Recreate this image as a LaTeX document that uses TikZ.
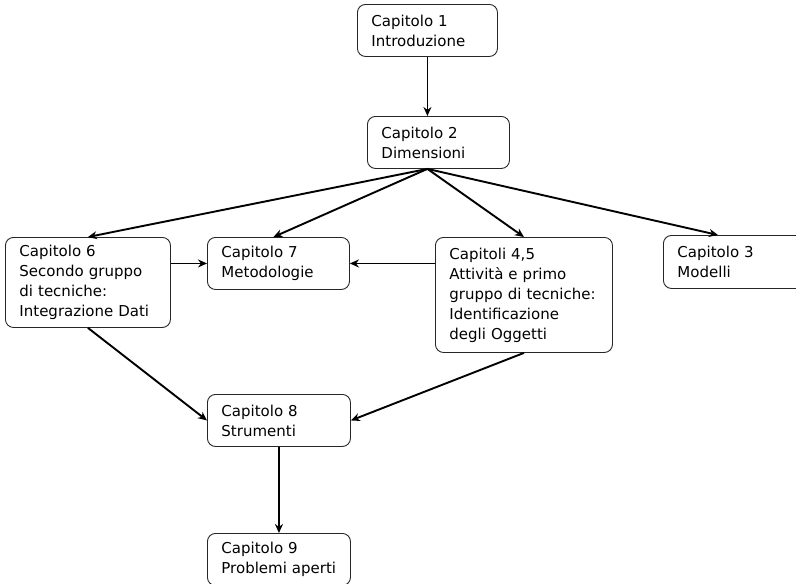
\documentclass[tikz,border=0pt]{standalone}
\usepackage{fontspec}
\setmainfont{DejaVu Sans}
\usetikzlibrary{arrows.meta,calc}
\begin{document}
\begin{tikzpicture}[x=1pt,y=-1pt,
  chapter/.style={draw=black!85,line width=0.9pt,rounded corners=8pt,
    anchor=north west,align=left,inner xsep=14pt,inner ysep=0pt,
    font=\fontsize{15}{20}\selectfont},
  link/.style={line width=1.9pt,-{Stealth[length=9pt,width=8pt]}}]
\useasboundingbox (0,0) rectangle (796,584);
% chapters, placed by their top-left corners
\node[chapter,minimum width=140pt,minimum height=52pt,text width=112pt] (c1) at (357,4) {Capitolo 1\\Introduzione};
\node[chapter,minimum width=142pt,minimum height=52pt,text width=114pt] (c2) at (367,116) {Capitolo 2\\Dimensioni};
\node[chapter,minimum width=165pt,minimum height=90pt,text width=137pt] (c6) at (5,237) {Capitolo 6\\Secondo gruppo\\di tecniche:\\Integrazione Dati};
\node[chapter,minimum width=142pt,minimum height=52pt,text width=114pt] (c7) at (207,237) {Capitolo 7\\Metodologie};
\node[chapter,minimum width=177pt,minimum height=115pt,text width=149pt] (c45) at (435,237) {Capitoli 4,5\\Attività e primo\\gruppo di tecniche:\\Identificazione\\degli Oggetti};
\node[chapter,minimum width=142pt,minimum height=53pt,text width=114pt] (c3) at (663,235) {Capitolo 3\\Modelli};
\node[chapter,minimum width=143pt,minimum height=52pt,text width=115pt] (c8) at (207,394) {Capitolo 8\\Strumenti};
\node[chapter,minimum width=143pt,minimum height=52pt,text width=115pt] (c9) at (207,533) {Capitolo 9\\Problemi aperti};
% dependencies between chapters
\coordinate (hub) at (c2.south -| c1.south);
\draw[link] (c1.south) -- (c2.north -| c1.south);
\draw[link] (hub) -- (c6.north);
\draw[link] (hub) -- ($(c7.north)+(-5,0)$);
\draw[link] (hub) -- (c45.north);
\draw[link] (hub) -- ($(c3.north west)+(55,0)$);
\draw[link] (c7.west -| c6.east) -- (c7.west);
\draw[link] (c7.east -| c45.west) -- (c7.east);
\draw[link] (c6.south) -- (c8.west);
\draw[link] (c45.south) -- (c8.east);
\draw[link] (c8.south) -- (c9.north);
\end{tikzpicture}
\end{document}
